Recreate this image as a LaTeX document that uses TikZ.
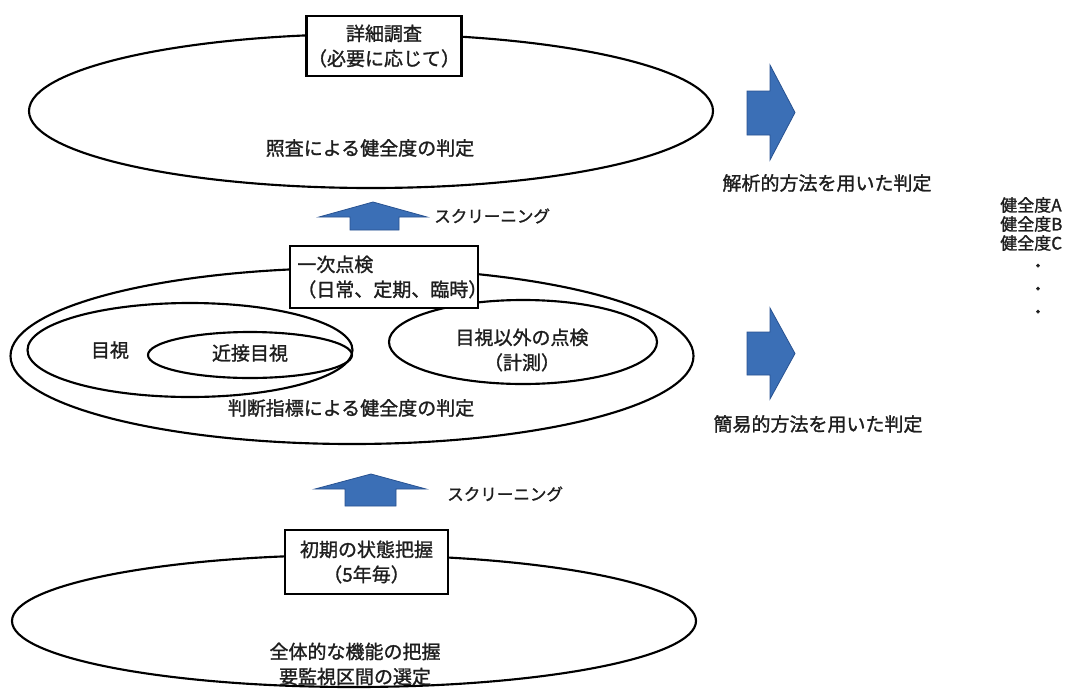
\documentclass[tikz,border=0pt]{standalone}
\usepackage{fontspec}
\setmainfont{Noto Sans CJK JP}[FakeBold=1.3]
\usetikzlibrary{shapes.geometric}
\definecolor{arrowblue}{RGB}{59,111,182}
\definecolor{arrowedge}{RGB}{40,82,145}
\definecolor{inkgray}{RGB}{30,30,30}
\begin{document}
\begin{tikzpicture}[x=0.75pt,y=-0.75pt,
  oval/.style={ellipse, draw=black, line width=1.6pt, inner sep=0pt},
  labelbox/.style={rectangle, draw=black, line width=1.6pt, fill=white, inner sep=0pt},
  jtext/.style={font=\fontsize{14.25pt}{18.75pt}\selectfont, inner sep=0pt, text=inkgray},
  smalltext/.style={font=\fontsize{12.4pt}{15pt}\selectfont, inner sep=0pt, text=inkgray},
  gradetext/.style={font=\fontsize{12.75pt}{14pt}\selectfont, inner sep=0pt, text=inkgray, anchor=west},
  blockarrow/.style={fill=arrowblue, draw=arrowedge, line width=0.6pt, line join=miter}]
\useasboundingbox (0,0) rectangle (1067,689);
\fill[white] (0,0) rectangle (1067,689);

% ---- top: detailed survey ----
\node[oval, minimum width=513pt, minimum height=115.5pt] (topoval) at (371,111) {};
\node[labelbox, minimum width=116.25pt, minimum height=45pt, jtext, align=center] (detail) at (384,46) {詳細調査\\（必要に応じて）};
\node[jtext] (shosa) at (370,148) {照査による健全度の判定};

% ---- screening arrow 1 ----
\fill[blockarrow] (350,230) -- (350,217) -- (319,217) -- (373,202) -- (427,217) -- (399,217) -- (399,230) -- cycle;
\node[smalltext, anchor=west] (scr1) at (434,216) {スクリーニング};

% ---- middle: primary inspection ----
\node[oval, minimum width=512.25pt, minimum height=132pt] (midoval) at (352,356) {};
\node[oval, minimum width=243.75pt, minimum height=70.5pt] (visoval) at (190,350) {};
\node[oval, minimum width=153pt, minimum height=34.5pt] (closeoval) at (250,355) {};
\node[oval, minimum width=201pt, minimum height=63pt] (measoval) at (523,342) {};
\node[labelbox, minimum width=141pt, minimum height=46.5pt, jtext, align=left,
      text width=130pt, inner xsep=5pt] (primary) at (384,277) {一次点検\\（日常、定期、臨時）};
\node[jtext] (visual) at (110,350) {目視};
\node[jtext] (closevis) at (250,353) {近接目視};
\node[jtext, align=center] (othercheck) at (522,350) {目視以外の点検\\（計測）};
\node[jtext] (judgeidx) at (351,408) {判断指標による健全度の判定};

% ---- screening arrow 2 ----
\fill[blockarrow] (345,506) -- (345,489) -- (315,489) -- (371,474) -- (426,489) -- (396,489) -- (396,506) -- cycle;
\node[smalltext, anchor=west] (scr2) at (447,494) {スクリーニング};

% ---- bottom: initial state ----
\node[oval, minimum width=513pt, minimum height=99pt] (initoval) at (354,621) {};
\node[labelbox, minimum width=122.25pt, minimum height=48pt, jtext, align=center] (initial) at (366.5,562) {初期の状態把握\\（5年毎）};
\node[jtext, align=center] (overall) at (355,664) {全体的な機能の把握\\要監視区間の選定};

% ---- right arrows and method labels ----
\fill[blockarrow] (747,91) -- (770,91) -- (770,65) -- (795,112.5) -- (770,160) -- (770,135) -- (747,135) -- cycle;
\node[jtext] (analytic) at (827,183) {解析的方法を用いた判定};
\fill[blockarrow] (747,332) -- (770,332) -- (770,308) -- (795,353.5) -- (770,399) -- (770,375) -- (747,375) -- cycle;
\node[jtext] (simple) at (818,424) {簡易的方法を用いた判定};

% ---- grades ----
\node[gradetext] (gradeA) at (1000,205) {健全度A};
\node[gradetext] (gradeB) at (1000,224) {健全度B};
\node[gradetext] (gradeC) at (1000,243) {健全度C};
\node[gradetext, anchor=center] (dotA) at (1038,268) {・};
\node[gradetext, anchor=center] (dotB) at (1038,291) {・};
\node[gradetext, anchor=center] (dotC) at (1038,314) {・};
\end{tikzpicture}
\end{document}
